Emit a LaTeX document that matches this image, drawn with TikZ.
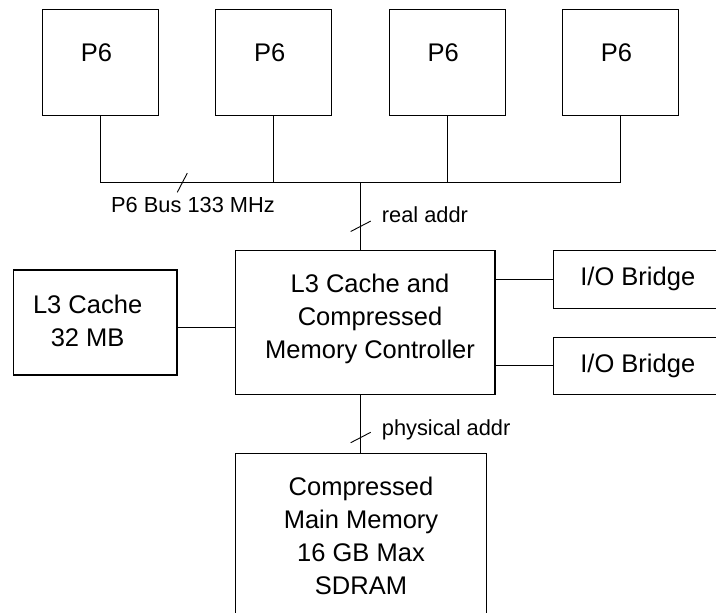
\documentclass[tikz,border=0pt]{standalone}
\usepackage{fontspec}
\setmainfont{Liberation Sans}
\begin{document}
\begin{tikzpicture}[x=1pt,y=-1pt,
  box/.style={draw, line width=1.1pt, inner sep=0pt, rectangle},
  wire/.style={line width=1.1pt},
  tick/.style={line width=0.9pt},
  bt/.style={font=\fontsize{25.5}{33}\selectfont, align=center, inner sep=0pt},
  lbl/.style={font=\fontsize{21.8}{26}\selectfont, inner sep=0pt}]
\useasboundingbox (0,0) rectangle (716,613);
\clip (0,0) rectangle (716,613);

% processors
\foreach \i/\x in {1/100.5,2/273.8,3/447.1,4/620.4}
  \node[box, minimum width=116pt, minimum height=106pt,
        label={[bt, xshift=-4pt, yshift=9.4pt]center:P6}] (p\i) at (\x,62.4) {};

% bus
\coordinate (bus) at (0,182.7);
\draw[wire] (p1.south) -- (p1.south |- bus) -- (p4.south |- bus) -- (p4.south);
\draw[wire] (p2.south) -- (p2.south |- bus);
\draw[wire] (p3.south) -- (p3.south |- bus);
\coordinate (bt1) at (182.3,182.7);
\draw[tick] (bt1) ++(-5,9.6) -- ++(10,-19.2);
\node[lbl, anchor=base west] (busl) at (111,212.7) {P6 Bus 133 MHz};

% controller
\node[box, minimum width=259.3pt, minimum height=143.6pt,
      label={[bt, xshift=4.7pt, yshift=4pt]center:{L3 Cache and\\Compressed\\Memory Controller}}] (main) at (365.35,322.5) {};
\coordinate (drop) at (360.7,182.7);
\draw[wire] (drop) -- (drop |- main.north);
\coordinate (rt) at (360.7,226.3);
\draw[tick] (rt) ++(-10,5.2) -- ++(20,-10.4);
\node[lbl, anchor=base west] (ral) at (381.7,222.3) {real addr};

% L3 cache
\node[box, minimum width=163.7pt, minimum height=105pt,
      label={[bt, xshift=-7.5pt, yshift=1.6pt]center:{L3 Cache\\32 MB}}] (l3) at (95.15,322.5) {};
\draw[wire] ([yshift=-4.8pt]l3.east) -- ([yshift=-4.8pt]main.west);

% I/O bridges
\node[box, bt, minimum width=169pt, minimum height=58pt] (io1) at (637.8,279.3) {I/O Bridge};
\node[box, bt, minimum width=169pt, minimum height=57pt] (io2) at (637.8,365.8) {I/O Bridge};
\draw[wire] (main.east |- io1.west) -- (io1.west);
\draw[wire] (main.east |- io2.west) -- (io2.west);

% main memory
\node[box, minimum width=250.5pt, minimum height=180pt, anchor=north,
      label={[bt, yshift=7.5pt]center:{Compressed\\Main Memory\\16 GB Max\\SDRAM}}] (mem) at (361,452.5) {};
\draw[wire] (drop |- main.south) -- (drop |- mem.north);
\coordinate (pt) at (360.7,437.5);
\draw[tick] (pt) ++(-10,5.2) -- ++(20,-10.4);
\node[lbl, anchor=base west] (pal) at (381.7,435) {physical addr};
\end{tikzpicture}
\end{document}
